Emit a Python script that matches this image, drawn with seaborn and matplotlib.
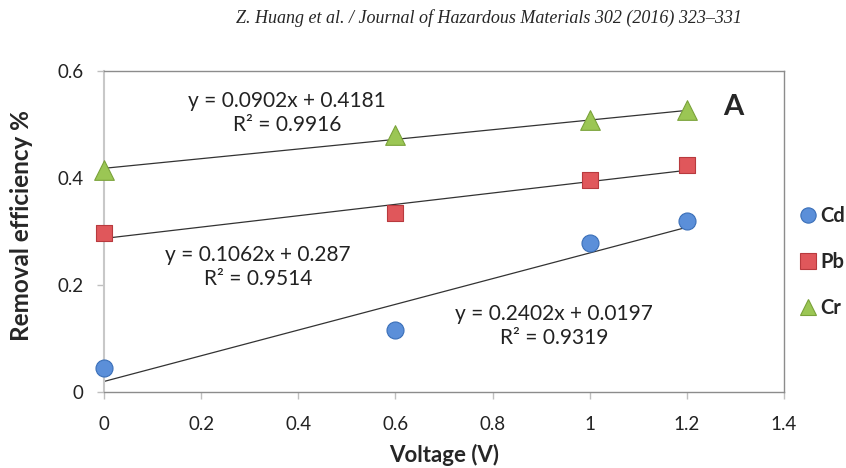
import numpy as np
import pandas as pd
import matplotlib
matplotlib.use("Agg")
import matplotlib.pyplot as plt
import seaborn as sns
from matplotlib.lines import Line2D

# ---- data ----
voltage = [0, 0.6, 1, 1.2]
cd = [0.045, 0.115, 0.278, 0.320]
pb = [0.297, 0.334, 0.396, 0.424]
cr = [0.415, 0.481, 0.508, 0.527]
metals = ["Cd", "Pb", "Cr"]
slopes = [0.2402, 0.1062, 0.0902]
intercepts = [0.0197, 0.287, 0.4181]
eq_labels = ["y = 0.2402x + 0.0197\nR² = 0.9319",
             "y = 0.1062x + 0.287\nR² = 0.9514",
             "y = 0.0902x + 0.4181\nR² = 0.9916"]
x_ticks = [0, 0.2, 0.4, 0.6, 0.8, 1, 1.2, 1.4]
x_tick_labels = ["0", "0.2", "0.4", "0.6", "0.8", "1", "1.2", "1.4"]
y_ticks = [0, 0.2, 0.4, 0.6]
y_tick_labels = ["0", "0.2", "0.4", "0.6"]
header = "Z. Huang et al. / Journal of Hazardous Materials 302 (2016) 323–331"

colors = {"Cd": "#5b8fd9", "Pb": "#e0575b", "Cr": "#9bc654"}
edges = {"Cd": "#3a6fb8", "Pb": "#b83a3e", "Cr": "#7aa23a"}
markers = {"Cd": "o", "Pb": "s", "Cr": "^"}
sizes = {"Cd": 150, "Pb": 140, "Cr": 200}

df = pd.DataFrame({
    "Voltage": voltage * 3,
    "Eff": cd + pb + cr,
    "Metal": ["Cd"] * 4 + ["Pb"] * 4 + ["Cr"] * 4,
})

sns.set_style("white")
plt.rcParams["font.family"] = ["Lato", "DejaVu Sans"]

fig = plt.figure(figsize=(8.46, 4.68), dpi=100)
ax = fig.add_axes([104 / 846, 1 - 392 / 468, 680 / 846, 321 / 468])

# trend lines
for m, s, b in zip(metals, slopes, intercepts):
    xs = np.array([min(voltage), max(voltage)])
    tl = pd.DataFrame({"x": xs, "y": s * xs + b})
    sns.lineplot(data=tl, x="x", y="y", ax=ax, color="#333333", lw=0.9, zorder=2)

for m in metals:
    sub = df[df.Metal == m]
    sns.scatterplot(data=sub, x="Voltage", y="Eff", ax=ax, marker=markers[m],
                    s=sizes[m], color=colors[m], edgecolor=edges[m], linewidth=0.8,
                    zorder=3, clip_on=False, legend=False)

ax.set_xlim(0, 1.4)
ax.set_ylim(0, 0.6)
ax.set_xticks(x_ticks)
ax.set_xticklabels(x_tick_labels)
ax.set_yticks(y_ticks)
ax.set_yticklabels(y_tick_labels)
ax.tick_params(axis="both", labelsize=13.5, colors="#222222", length=5, width=1,
               direction="out", left=True, bottom=True)
ax.tick_params(axis="x", color="#bfbfbf", pad=12)
ax.tick_params(axis="y", color="#bfbfbf", pad=10)
for lab in ax.get_xticklabels() + ax.get_yticklabels():
    lab.set_color("#222222")

for side in ["top", "right"]:
    ax.spines[side].set_color("#8c8c8c")
    ax.spines[side].set_linewidth(1.0)
ax.spines["left"].set_color("#c8c8c8")
ax.spines["left"].set_linewidth(1.5)
ax.spines["bottom"].set_color("#8c8c8c")
ax.spines["bottom"].set_linewidth(1.0)

ax.set_xlabel("Voltage (V)", fontsize=16, fontweight="bold", labelpad=8)
ax.set_ylabel("Removal efficiency %", fontsize=17.5, fontweight="bold")
ax.yaxis.set_label_coords(-0.105, 0.52)

# equation annotations
eq_pos = [(0.9265, 0.1234), (0.317, 0.2336), (0.377, 0.5215)]
for (xp, yp), t in zip(eq_pos, eq_labels):
    ax.text(xp, yp, t, ha="center", va="center", fontsize=15, color="#222222",
            linespacing=1.3)

ax.text(1.295, 0.532, "A", fontsize=21, fontweight="bold", ha="center", va="center")

handles = [Line2D([], [], marker=markers[m], linestyle="none", markersize=11,
                  markerfacecolor=colors[m], markeredgecolor=edges[m], markeredgewidth=0.8)
           for m in metals]
leg = fig.legend(handles, metals, loc="center left", bbox_to_anchor=(799 / 846, 1 - 262 / 468),
                 frameon=False, handletextpad=0.15, handlelength=0.9, labelspacing=1.3,
                 borderpad=0, borderaxespad=0, prop={"weight": "bold", "size": 14.5})

fig.text(489 / 846, 1 - 18 / 468, header, ha="center", va="center", fontsize=13,
         style="italic", family=["Liberation Serif"])

fig.savefig("out.png", dpi=100)
